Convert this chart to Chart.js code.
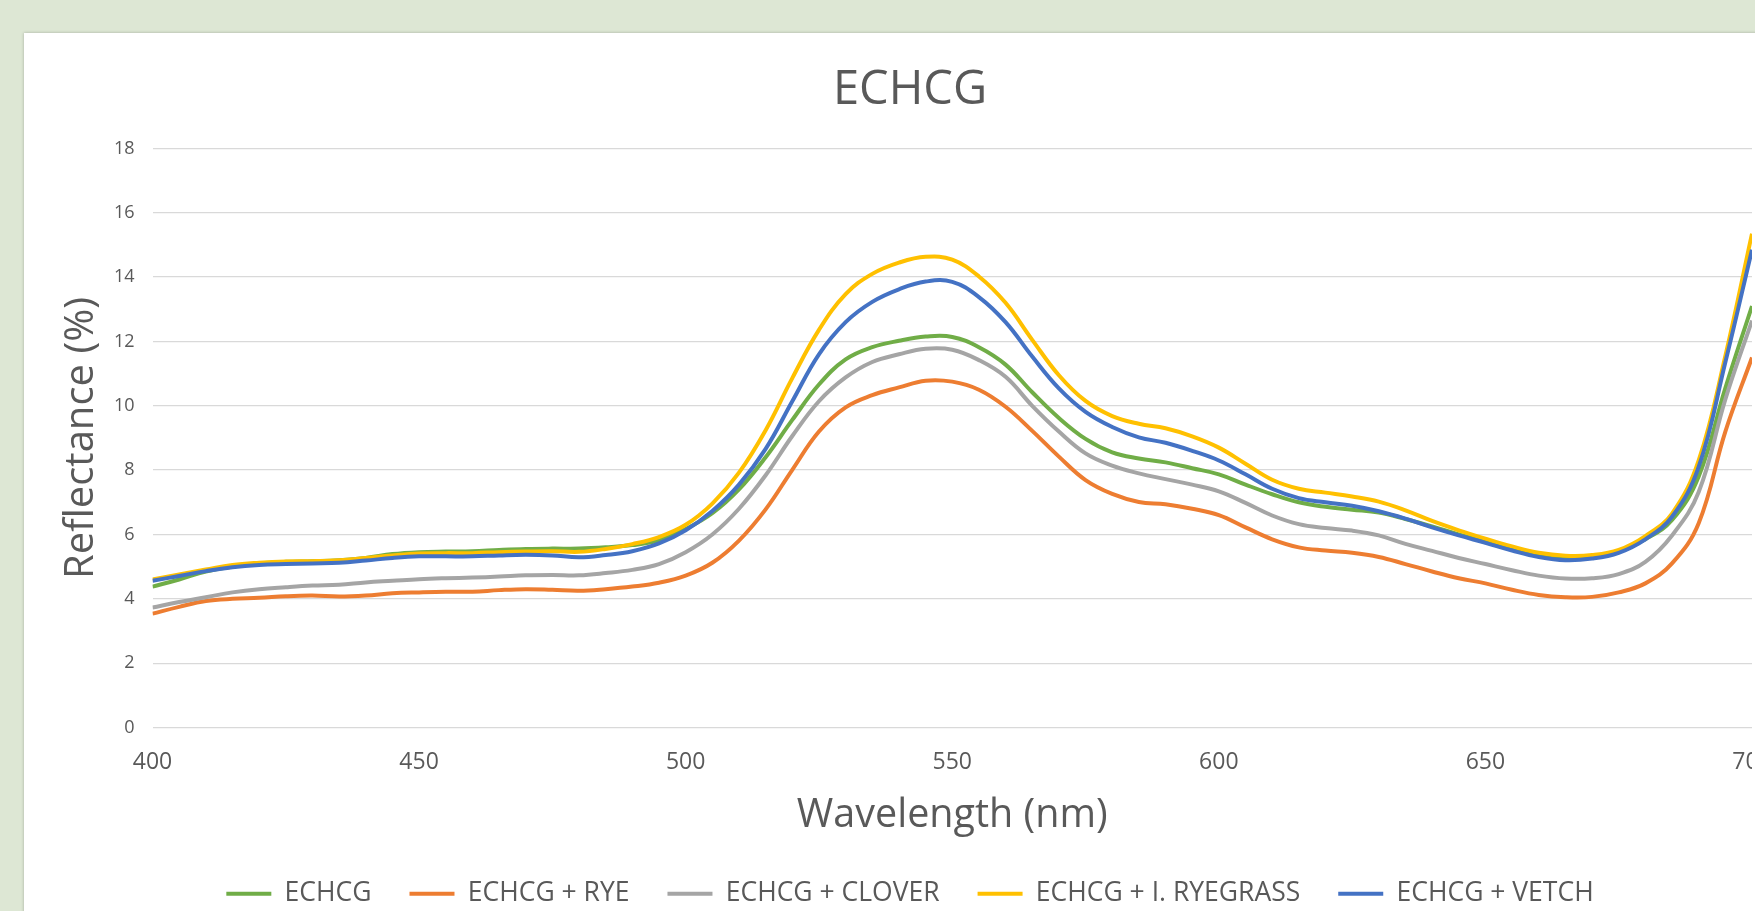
<!DOCTYPE html>
<html>
<head>
<meta charset="utf-8">
<script src="https://cdn.jsdelivr.net/npm/chart.js@4"></script>
<style>
  html, body { margin: 0; padding: 0; width: 1755px; height: 911px; overflow: hidden; background: #dde7d4; }
  #card { position: absolute; left: 24px; top: 33px; width: 1800px; height: 920px; background: #fff; box-shadow: 0 0 3px rgba(0, 0, 0, 0.25); }
  #chart { position: absolute; left: 0; top: 0; }
</style>
</head>
<body>
<div id="card"><canvas id="chart" width="1728" height="884"></canvas></div>
<script>
// wavelength (nm), every 5 nm
const wavelengths = [
  400, 405, 410, 415, 420, 425, 430, 435, 440, 445, 450, 455, 460, 465, 470, 475, 480, 485, 490, 495,
  500, 505, 510, 515, 520, 525, 530, 535, 540, 545, 550, 555, 560, 565, 570, 575, 580, 585, 590, 595,
  600, 605, 610, 615, 620, 625, 630, 635, 640, 645, 650, 655, 660, 665, 670, 675, 680, 685, 690, 695, 700,
];

// reflectance (%)
const echcg = [
  4.38, 4.6, 4.85, 5.0, 5.1, 5.15, 5.17, 5.2, 5.27, 5.39, 5.45, 5.47, 5.48, 5.52, 5.55, 5.56, 5.56, 5.6, 5.67, 5.82,
  6.17, 6.66, 7.4, 8.4, 9.56, 10.66, 11.44, 11.82, 12.02, 12.15, 12.14, 11.82, 11.28, 10.42, 9.62, 8.97, 8.55, 8.36, 8.24, 8.06,
  7.87, 7.55, 7.25, 7.0, 6.86, 6.77, 6.68, 6.48, 6.25, 6.0, 5.78, 5.58, 5.4, 5.3, 5.32, 5.48, 5.85, 6.45, 7.8, 10.55, 13.1,
];
const echcgRye = [
  3.54, 3.75, 3.93, 4.0, 4.03, 4.08, 4.1, 4.07, 4.1, 4.17, 4.2, 4.22, 4.22, 4.27, 4.3, 4.28, 4.25, 4.3, 4.38, 4.5,
  4.72, 5.12, 5.81, 6.78, 8.01, 9.2, 9.95, 10.33, 10.57, 10.78, 10.75, 10.5, 9.97, 9.22, 8.42, 7.69, 7.26, 7.01, 6.94, 6.8,
  6.6, 6.22, 5.85, 5.6, 5.5, 5.43, 5.3, 5.08, 4.85, 4.64, 4.48, 4.28, 4.12, 4.05, 4.06, 4.2, 4.48, 5.1, 6.35, 9.2, 11.5,
];
const echcgClover = [
  3.73, 3.9, 4.05, 4.2, 4.3, 4.36, 4.41, 4.44, 4.51, 4.56, 4.61, 4.64, 4.66, 4.69, 4.73, 4.74, 4.73, 4.8, 4.9, 5.08,
  5.45, 6.0, 6.8, 7.84, 9.06, 10.14, 10.88, 11.36, 11.6, 11.77, 11.74, 11.42, 10.9, 10.0, 9.2, 8.52, 8.14, 7.9, 7.72, 7.55,
  7.34, 6.98, 6.59, 6.32, 6.2, 6.12, 5.97, 5.71, 5.49, 5.27, 5.08, 4.89, 4.72, 4.63, 4.64, 4.77, 5.15, 5.97, 7.32, 10.2, 12.65,
];
const echcgRyegrass = [
  4.6, 4.76, 4.91, 5.05, 5.12, 5.16, 5.17, 5.2, 5.27, 5.35, 5.41, 5.42, 5.42, 5.45, 5.47, 5.48, 5.46, 5.55, 5.7, 5.92,
  6.3, 6.96, 7.92, 9.24, 10.86, 12.36, 13.47, 14.1, 14.45, 14.63, 14.54, 14.02, 13.2, 12.05, 10.95, 10.15, 9.68, 9.44, 9.3, 9.05,
  8.7, 8.2, 7.7, 7.42, 7.3, 7.18, 7.02, 6.75, 6.42, 6.13, 5.87, 5.63, 5.43, 5.34, 5.36, 5.52, 5.95, 6.65, 8.3, 11.55, 15.35,
];
const echcgVetch = [
  4.56, 4.71, 4.86, 4.98, 5.05, 5.08, 5.1, 5.12, 5.19, 5.27, 5.32, 5.32, 5.32, 5.35, 5.37, 5.35, 5.29, 5.36, 5.48, 5.72,
  6.13, 6.73, 7.55, 8.66, 10.14, 11.6, 12.6, 13.23, 13.62, 13.86, 13.85, 13.38, 12.6, 11.53, 10.54, 9.81, 9.34, 9.02, 8.85, 8.6,
  8.3, 7.87, 7.42, 7.13, 7.0, 6.89, 6.72, 6.49, 6.22, 5.97, 5.74, 5.5, 5.3, 5.2, 5.25, 5.43, 5.85, 6.55, 8.1, 11.35, 14.85,
];

const seriesNames = ["ECHCG", "ECHCG + RYE", "ECHCG + CLOVER", "ECHCG + I. RYEGRASS", "ECHCG + VETCH"];
const seriesColors = ["#70ad47", "#ed7d31", "#a5a5a5", "#ffc000", "#4472c4"];
const seriesValues = [echcg, echcgRye, echcgClover, echcgRyegrass, echcgVetch];
// later series sit on top, like the original
const drawOrder = [4, 3, 2, 1, 0];

const yTicks = [0, 2, 4, 6, 8, 10, 12, 14, 16, 18];
const xTicks = [400, 450, 500, 550, 600, 650, 700];

const textGrey = "#595959";
const fontFamily = "'Open Sans', sans-serif";

const datasets = seriesNames.map(function (name, i) {
  return {
    label: name,
    data: wavelengths.map((w, j) => ({ x: w, y: seriesValues[i][j] })),
    borderColor: seriesColors[i],
    backgroundColor: seriesColors[i],
    borderWidth: 4,
    pointRadius: 0,
    tension: 0.4,
    order: drawOrder[i],
  };
});

const ctx = document.getElementById("chart").getContext("2d");
const chart = new Chart(ctx, {
  type: "line",
  data: { datasets: datasets },
  options: {
    responsive: false,
    animation: false,
    layout: { padding: { left: 44, right: 0, top: 0, bottom: 0 } },
    plugins: {
      title: {
        display: true,
        text: "ECHCG",
        color: textGrey,
        font: { family: fontFamily, size: 47, weight: "normal", lineHeight: 1.2 },
        padding: { top: 29.5, bottom: 29.5 },
      },
      legend: {
        position: "bottom",
        labels: {
          color: textGrey,
          font: { family: fontFamily, size: 26.5 },
          usePointStyle: true,
          pointStyle: "line",
          pointStyleWidth: 45,
          padding: 38,
          sort: (a, b) => a.datasetIndex - b.datasetIndex,
        },
      },
      tooltip: { enabled: false },
    },
    scales: {
      x: {
        type: "linear",
        min: xTicks[0],
        max: xTicks[xTicks.length - 1],
        afterBuildTicks: (axis) => { axis.ticks = xTicks.map((v) => ({ value: v })); },
        // let the end labels hang over, the plot runs to the edge
        afterFit: (axis) => { axis.paddingLeft = 0; axis.paddingRight = 0; },
        grid: { display: false, drawTicks: false },
        border: { display: false },
        ticks: { color: textGrey, font: { family: fontFamily, size: 23 }, padding: 21, maxRotation: 0 },
        title: {
          display: true,
          text: "Wavelength (nm)",
          color: textGrey,
          font: { family: fontFamily, size: 39.5, lineHeight: 1.2 },
          padding: { top: -5, bottom: 3 },
        },
      },
      y: {
        min: yTicks[0],
        max: yTicks[yTicks.length - 1],
        afterBuildTicks: (axis) => { axis.ticks = yTicks.map((v) => ({ value: v })); },
        afterFit: (axis) => { axis.width = 84.5; },
        grid: { color: "#d9d9d9", lineWidth: 1.3, drawTicks: false },
        border: { display: false },
        ticks: { color: textGrey, font: { family: fontFamily, size: 18 }, padding: 18 },
        title: {
          display: true,
          text: "Reflectance (%)",
          color: textGrey,
          font: { family: fontFamily, size: 40, lineHeight: 1.2 },
          padding: { top: -10, bottom: 0 },
        },
      },
    },
  },
});
</script>
</body>
</html>
